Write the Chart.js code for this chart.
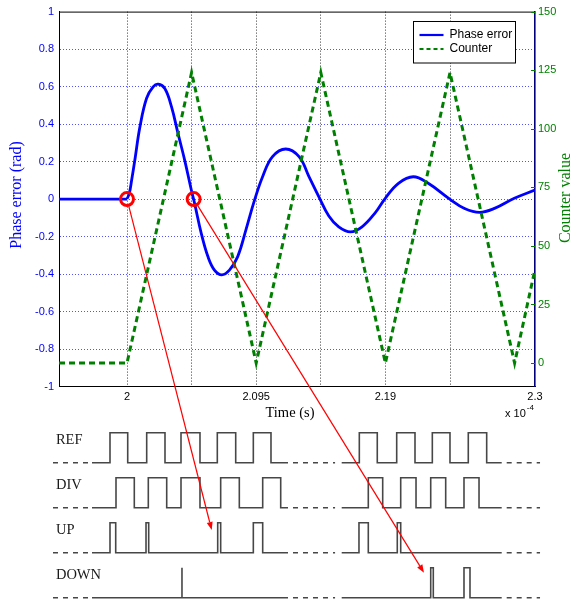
<!DOCTYPE html>
<html><head><meta charset="utf-8">
<script src="https://cdn.jsdelivr.net/npm/chart.js@4.4.0/dist/chart.umd.min.js"></script>
<style>
html,body{margin:0;padding:0;background:#fff;}
#wrap{position:relative;width:573px;height:607px;}
canvas{position:absolute;left:0;top:0;}
#bot{pointer-events:none;}
</style></head><body>
<div id="wrap"><canvas id="top" width="573" height="607"></canvas><canvas id="bot" width="573" height="607"></canvas></div>
<script>
// ---------- top plot data (time in units of 1e-4 s) ----------
const phaseTime  = [1.95,2.0,2.0017,2.0034,2.0058,2.0095,2.0144,2.0192,2.0229,2.0278,2.0327,2.0375,2.0424,2.0473,2.0497,2.0546,2.0595,2.0643,2.0697,2.0753,2.0814,2.0876,2.0936,2.0997,2.107,2.1167,2.1265,2.1338,2.1411,2.1484,2.1557,2.1643,2.1728,2.1826,2.1899,2.1996,2.2105,2.2215,2.2373,2.2482,2.2592,2.2702,2.2848,2.3];
const phaseError = [0,0,0.03,0.10,0.21,0.385,0.538,0.598,0.613,0.59,0.493,0.35,0.208,0.048,-0.023,-0.183,-0.307,-0.379,-0.404,-0.379,-0.307,-0.16,-0.01,0.119,0.226,0.267,0.226,0.12,0.012,-0.09,-0.148,-0.175,-0.148,-0.072,0.004,0.084,0.119,0.084,0.0,-0.05,-0.071,-0.05,0.004,0.048];
const counterTime  = [1.95,2.0,2.0475,2.095,2.1425,2.19,2.2375,2.285,2.3];
const counterValue = [0,0,124,0,124,0,124,0,40];
const markerTime  = [2.0,2.049];
const markerValue = [0,0];
const timeTicks      = [2,2.0475,2.095,2.1425,2.19,2.2375,2.3];
const timeTickLabels = ['2','','2.095','','2.19','','2.3'];
const phaseTicks   = [-1,-0.8,-0.6,-0.4,-0.2,0,0.2,0.4,0.6,0.8,1];
const counterTicks = [0,25,50,75,100,125,150];
const legendLabels = ['Phase error','Counter'];

// ---------- timing diagram data (arbitrary time units 0..100) ----------
const rowNames = ['REF','DIV','UP','DOWN'];
const rowBase  = [3.1,2.1,1.1,0.1];
const pulseHigh = 0.667;
const solidSpans = [[7.99,48.16],[59.16,91.95]];
const dashSpans  = [[0,7.99],[49.18,57.8],[92.97,99.8]];
const refEdges  = [[[11.68,15.31],[19.20,22.95],[26.23,30.12],[33.67,37.44],[41.05,44.67]],[[62.77,66.45],[70.43,74.18],[77.73,81.35],[85.10,88.87]]];
const divEdges  = [[[12.91,16.66],[19.53,23.30],[26.23,30.12],[34.36,38.18],[42.97,46.66]],[[64.61,67.56],[71.25,74.39],[77.40,80.47],[84.22,87.30]]];
const upEdges   = [[[11.68,12.85],[19.06,19.61],[33.75,34.36],[41.05,42.97]],[[62.70,64.61],[70.55,71.25]]];
const downEdges = [[[26.43,26.43]],[[77.40,77.93],[84.22,85.45]]];
const arrowTargets = [[32.52,1.604],[76.02,0.655]];

const BLUE='#0000ff', GREEN='#008000', NAVY='#00007a', RED='#ff0000', SIG='#474747';
const SANS='"Liberation Sans", Arial, sans-serif', SERIF='"Liberation Serif", "Times New Roman", serif';

const pts = (xs, ys) => xs.map((x,i)=>({x, y:ys[i]}));
const onsetIdx = phaseTime.indexOf(2.0);
const phaseFlat = pts(phaseTime.slice(0,onsetIdx+1), phaseError.slice(0,onsetIdx+1));
const phaseOsc  = pts(phaseTime.slice(onsetIdx), phaseError.slice(onsetIdx));

const topDecor = {
  id:'topDecor',
  afterDatasetsDraw(chart){
    const {ctx, chartArea:a, scales} = chart;
    ctx.save();
    ctx.strokeStyle='#000'; ctx.lineWidth=1; ctx.setLineDash([]);
    ctx.beginPath(); ctx.moveTo(a.left, a.top+0.5); ctx.lineTo(a.right, a.top+0.5); ctx.stroke();
    ctx.strokeStyle=GREEN; ctx.lineWidth=1;
    counterTicks.forEach(v=>{ const y=Math.round(scales.yR.getPixelForValue(v))+0.5;
      ctx.beginPath(); ctx.moveTo(a.right-4,y); ctx.lineTo(a.right,y); ctx.stroke(); });
    // legend
    const bx=413.5, by=21.5, bw=102, bh=41.5;
    ctx.fillStyle='#fff'; ctx.fillRect(bx,by,bw,bh);
    ctx.strokeStyle='#000'; ctx.lineWidth=1; ctx.strokeRect(bx,by,bw,bh);
    const ds=[chart.data.datasets[2], chart.data.datasets[1]];
    ds.forEach((d,i)=>{
      const y=by+13.5+i*14;
      ctx.strokeStyle=d.borderColor; ctx.lineWidth=2.2; ctx.setLineDash(d.borderDash? [4,3]:[]);
      ctx.beginPath(); ctx.moveTo(bx+6,y); ctx.lineTo(bx+30,y); ctx.stroke();
      ctx.setLineDash([]);
      ctx.fillStyle='#000'; ctx.font='12px '+SANS; ctx.textBaseline='middle'; ctx.textAlign='left';
      ctx.fillText(legendLabels[i], bx+36, y);
    });
    ctx.restore();
  },
  afterDraw(chart){
    const {ctx} = chart;
    ctx.save();
    ctx.textBaseline='middle'; ctx.textAlign='center';
    ctx.font='14.5px '+SERIF; ctx.fillStyle='#000';
    ctx.fillText('Time (s)', 290, 413);
    ctx.font='11px '+SANS; ctx.textAlign='left';
    ctx.fillText('x 10', 505, 414);
    const w=ctx.measureText('x 10').width;
    ctx.font='8px '+SANS; ctx.fillText('-4', 505+w+1, 408);
    ctx.font='16px '+SERIF; ctx.textAlign='center';
    ctx.fillStyle=BLUE;
    ctx.translate(17,195); ctx.rotate(-Math.PI/2); ctx.fillText('Phase error (rad)',0,0);
    ctx.setTransform(1,0,0,1,0,0);
    ctx.fillStyle=GREEN;
    ctx.translate(566,198); ctx.rotate(-Math.PI/2); ctx.fillText('Counter value',0,0);
    ctx.restore();
  }
};

const topChart = new Chart(document.getElementById('top'), {
  type:'line',
  data:{datasets:[
    {label:'markers', data:pts(markerTime,markerValue), yAxisID:'yL', showLine:false, order:0,
     pointRadius:6.5, pointBorderWidth:3, pointBorderColor:RED, pointBackgroundColor:'rgba(0,0,0,0)', pointStyle:'circle'},
    {label:legendLabels[1], data:pts(counterTime,counterValue), yAxisID:'yR', order:1,
     borderColor:GREEN, borderWidth:3, borderDash:[6,4], pointRadius:0, tension:0},
    {label:legendLabels[0], data:phaseOsc, yAxisID:'yL', order:2,
     borderColor:BLUE, borderWidth:2.8, pointRadius:0, tension:0.4},
    {label:legendLabels[0]+' (before onset)', data:phaseFlat, yAxisID:'yL', order:3,
     borderColor:BLUE, borderWidth:2.8, pointRadius:0, tension:0}
  ]},
  options:{
    responsive:false, animation:false, devicePixelRatio:1,
    layout:{padding:{top:11,left:0,right:0,bottom:0}},
    plugins:{legend:{display:false}, tooltip:{enabled:false}},
    scales:{
      x:{type:'linear', min:1.95, max:2.3, position:'bottom',
        afterBuildTicks:s=>{ s.ticks = timeTicks.map(v=>({value:v})); },
        afterFit:s=>{ s.height=220.5; },
        ticks:{autoSkip:false, maxRotation:0, padding:4, color:'#000', font:{family:SANS,size:11},
          callback:(v)=>{ const i=timeTicks.indexOf(v); return i>=0? timeTickLabels[i] : ''; }},
        grid:{drawTicks:false, lineWidth:1, color:c=> (c.tick && (c.tick.value>=2.3 || c.tick.value<=1.95)) ? 'rgba(0,0,0,0)' : 'rgba(0,0,0,0.8)'},
        border:{display:true, color:'#000', width:1, dash:[1,2]}
      },
      yL:{type:'linear', position:'left', min:-1, max:1,
        afterBuildTicks:s=>{ s.ticks = phaseTicks.map(v=>({value:v})); },
        afterFit:s=>{ s.width=59; },
        ticks:{padding:5, color:BLUE, font:{family:SANS,size:11},
          callback:v=> String(Math.round(v*10)/10)},
        grid:{drawTicks:false, lineWidth:1, color:c=> (c.tick && Math.abs(c.tick.value)>=0.999) ? 'rgba(0,0,0,0)' : 'rgba(40,40,255,0.8)'},
        border:{display:true, color:'#000', width:1, dash:[1,2]}
      },
      yR:{type:'linear', position:'right', min:-10, max:150,
        afterBuildTicks:s=>{ s.ticks = counterTicks.map(v=>({value:v})); },
        afterFit:s=>{ s.width=38; },
        ticks:{padding:3, color:GREEN, font:{family:SANS,size:11}},
        grid:{drawTicks:false, drawOnChartArea:false},
        border:{display:true, color:NAVY, width:1.6}
      }
    }
  },
  plugins:[topDecor]
});

// ---------- timing diagram ----------
function wave(base, groups){
  const out=[];
  solidSpans.forEach((span,gi)=>{
    if(gi>0) out.push({x:(solidSpans[gi-1][1]+span[0])/2, y:null});
    out.push({x:span[0], y:base});
    groups[gi].forEach(([r,f])=>{
      out.push({x:r,y:base},{x:r,y:base+pulseHigh},{x:f,y:base+pulseHigh},{x:f,y:base});
    });
    out.push({x:span[1], y:base});
  });
  return out;
}
function dashes(base){
  const out=[];
  dashSpans.forEach((s,i)=>{
    if(i>0) out.push({x:(dashSpans[i-1][1]+s[0])/2, y:null});
    out.push({x:s[0],y:base},{x:s[1],y:base});
  });
  return out;
}
const allEdges=[refEdges,divEdges,upEdges,downEdges];
const timingSets=[];
rowNames.forEach((n,i)=>{
  timingSets.push({label:n, data:wave(rowBase[i], allEdges[i]), borderColor:SIG, borderWidth:1.6, pointRadius:0, tension:0, spanGaps:false, clip:false});
  timingSets.push({label:n+' dash', data:dashes(rowBase[i]), borderColor:SIG, borderWidth:1.6, borderDash:[5,5], pointRadius:0, tension:0, spanGaps:false, clip:false});
});

const botDecor = {
  id:'botDecor',
  afterDraw(chart){
    const {ctx, scales} = chart;
    ctx.save();
    ctx.font='14.5px '+SERIF; ctx.fillStyle='#1a1a1a'; ctx.textBaseline='middle'; ctx.textAlign='left';
    rowNames.forEach((n,i)=> ctx.fillText(n, scales.x.getPixelForValue(0.6), scales.y.getPixelForValue(rowBase[i]+0.49)));
    ctx.strokeStyle=RED; ctx.fillStyle=RED; ctx.lineWidth=1.2;
    markerTime.forEach((t,i)=>{
      const x0=topChart.scales.x.getPixelForValue(t), y0=topChart.scales.yL.getPixelForValue(markerValue[i]);
      const x1=scales.x.getPixelForValue(arrowTargets[i][0]), y1=scales.y.getPixelForValue(arrowTargets[i][1]);
      const dx=x1-x0, dy=y1-y0, L=Math.hypot(dx,dy), ux=dx/L, uy=dy/L;
      const sx=x0+ux*7.5, sy=y0+uy*7.5, head=8, hw=3;
      const bx=x1-ux*head, by=y1-uy*head;
      ctx.beginPath(); ctx.moveTo(sx,sy); ctx.lineTo(bx,by); ctx.stroke();
      ctx.beginPath(); ctx.moveTo(x1,y1); ctx.lineTo(bx-uy*hw,by+ux*hw); ctx.lineTo(bx+uy*hw,by-ux*hw); ctx.closePath(); ctx.fill();
    });
    ctx.restore();
  }
};

new Chart(document.getElementById('bot'), {
  type:'line',
  data:{datasets:timingSets},
  options:{
    responsive:false, animation:false, devicePixelRatio:1,
    layout:{padding:{left:53,right:32,top:422.2,bottom:4.8}},
    plugins:{legend:{display:false}, tooltip:{enabled:false}},
    scales:{
      x:{type:'linear', min:0, max:100, display:false},
      y:{type:'linear', min:0, max:4, display:false}
    }
  },
  plugins:[botDecor]
});
</script>
</body></html>
